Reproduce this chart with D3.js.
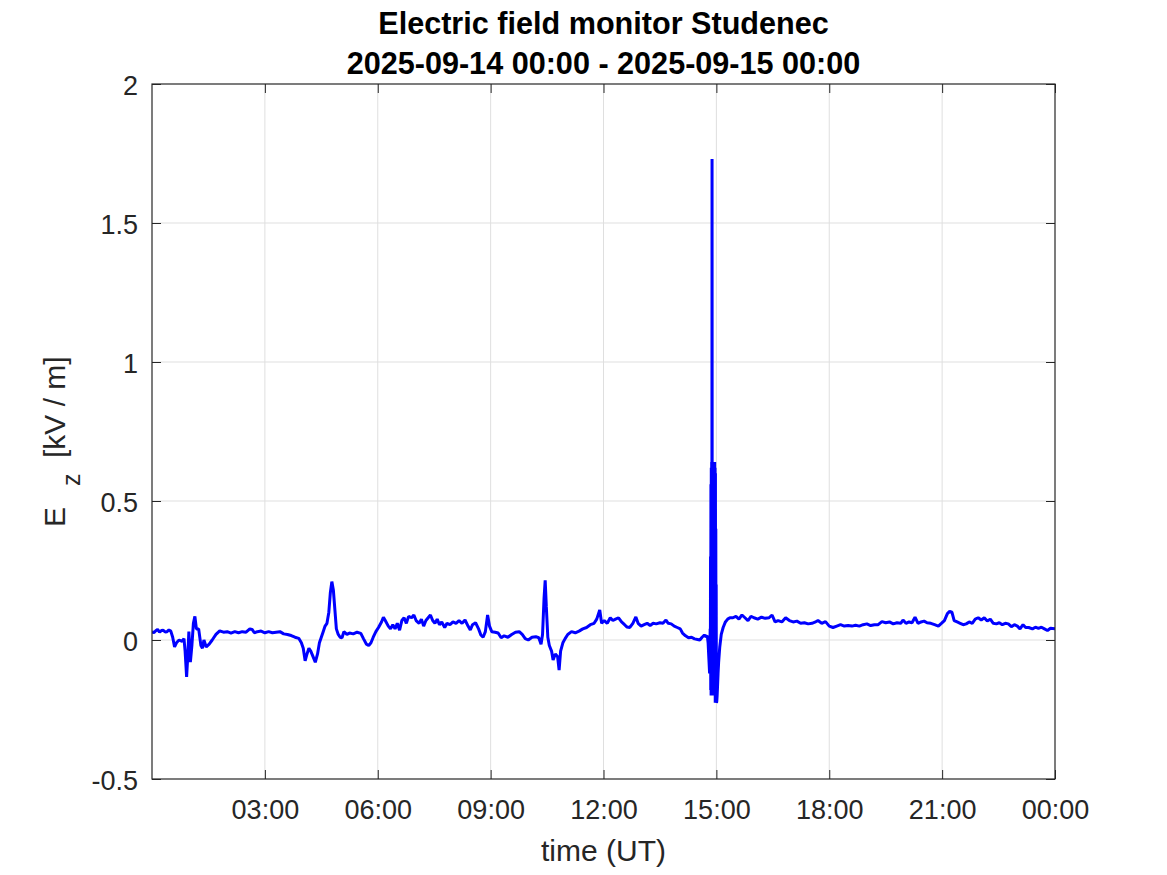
<!DOCTYPE html>
<html>
<head>
<meta charset="utf-8">
<script src="https://cdn.jsdelivr.net/npm/d3@7"></script>
<style>
  html, body { margin: 0; padding: 0; background: #fff; }
  svg { display: block; }
  text { font-family: "Liberation Sans", Arial, Helvetica, sans-serif; }
</style>
</head>
<body>
<svg id="chart" width="1167" height="875"></svg>
<script>
// ---- data ----
const titleLines = ["Electric field monitor Studenec", "2025-09-14 00:00 - 2025-09-15 00:00"];
const xLabel = "time (UT)";
const xTickHours = [3, 6, 9, 12, 15, 18, 21, 24];
const xTickLabels = ["03:00", "06:00", "09:00", "12:00", "15:00", "18:00", "21:00", "00:00"];
const yTicks = [-0.5, 0, 0.5, 1, 1.5, 2];
const yTickLabels = ["-0.5", "0", "0.5", "1", "1.5", "2"];

// time in hours since 2025-09-14 00:00 UT
const hours = [
  0.00,0.05,0.10,0.15,0.20,0.25,0.30,0.35,0.40,0.45,0.50,0.55,0.60,0.65,0.72,0.80,0.85,0.88,0.92,0.95,0.98,1.02,1.06,1.10,1.14,
  1.18,1.24,1.30,1.34,1.38,1.44,1.52,1.60,1.70,1.80,1.90,2.00,2.10,2.20,2.30,2.40,2.50,2.60,2.66,2.72,
  2.80,2.90,3.00,3.10,3.20,3.30,3.40,3.50,3.60,3.70,3.80,3.90,3.97,4.02,4.07,4.12,4.17,4.22,4.28,4.34,
  4.40,4.45,4.50,4.55,4.60,4.65,4.70,4.74,4.78,4.82,4.86,4.90,4.95,5.00,5.05,5.10,5.18,5.25,5.35,5.45,
  5.55,5.62,5.70,5.76,5.82,5.88,5.95,6.02,6.10,6.15,6.20,6.28,6.34,6.40,6.46,6.52,6.58,6.64,6.70,6.76,
  6.82,6.90,6.96,7.02,7.10,7.16,7.22,7.28,7.34,7.40,7.46,7.52,7.58,7.64,7.70,7.78,7.84,7.92,8.00,8.08,
  8.16,8.24,8.32,8.40,8.46,8.52,8.60,8.68,8.74,8.80,8.86,8.92,8.97,9.03,9.12,9.20,9.28,9.36,9.46,9.56,
  9.66,9.76,9.84,9.92,10.00,10.10,10.20,10.28,10.34,10.38,10.42,10.45,10.48,10.52,10.56,10.62,10.66,10.72,10.78,10.82,
  10.86,10.92,10.98,11.05,11.15,11.25,11.35,11.45,11.55,11.65,11.75,11.82,11.90,11.95,12.02,12.10,12.18,12.25,12.32,12.40,
  12.48,12.56,12.62,12.70,12.78,12.86,12.92,13.00,13.08,13.16,13.24,13.32,13.40,13.50,13.58,13.66,13.72,13.80,13.88,13.96,
  14.04,14.10,14.18,14.26,14.34,14.42,14.50,14.56,14.62,14.68,14.72,14.76,14.78,14.80,14.82,14.835,
  14.840,14.845,14.850,14.855,14.860,14.865,14.870,14.875,14.880,14.885,14.890,14.895,14.900,14.905,14.910,14.915,
  14.920,14.925,14.930,14.935,14.940,14.945,14.950,14.955,14.960,14.965,14.970,14.975,14.980,14.985,14.990,14.995,
  15.000,15.010,15.020,15.030,15.045,15.06,15.09,15.13,15.18,15.24,15.30,15.36,
  15.44,15.52,15.60,15.68,15.76,15.84,15.92,16.00,16.10,16.20,16.30,16.40,16.48,16.56,16.64,16.74,16.84,16.94,17.04,17.14,
  17.24,17.34,17.44,17.54,17.62,17.70,17.80,17.90,18.00,18.10,18.20,18.30,18.40,18.50,18.60,18.70,18.80,18.90,19.00,19.10,
  19.20,19.30,19.40,19.50,19.60,19.70,19.80,19.90,19.96,20.04,20.12,20.20,20.28,20.36,20.44,20.52,20.60,20.70,20.80,20.90,
  20.98,21.06,21.14,21.20,21.26,21.32,21.40,21.48,21.56,21.64,21.72,21.80,21.88,21.96,22.04,22.12,22.20,22.28,22.36,22.44,
  22.52,22.60,22.68,22.76,22.84,22.92,23.00,23.07,23.15,23.22,23.30,23.40,23.48,23.56,23.64,23.72,23.80,23.88,24.00
];
// vertical electric field, kV/m
const ez = [
  0.030,0.026,0.033,0.038,0.028,0.034,0.035,0.029,0.030,0.036,0.032,0.010,-0.025,-0.010,0.000,-0.005,0.005,-0.040,-0.133,-0.060,0.030,-0.080,-0.020,0.060,0.085,
  0.040,0.040,-0.020,-0.030,0.000,-0.025,-0.015,0.000,0.020,0.033,0.028,0.030,0.025,0.030,0.026,0.030,0.028,0.040,0.038,0.026,
  0.030,0.032,0.026,0.030,0.026,0.028,0.030,0.022,0.020,0.016,0.010,0.006,-0.010,-0.030,-0.075,-0.050,-0.030,-0.040,-0.060,-0.080,
  -0.050,-0.010,0.010,0.030,0.050,0.060,0.100,0.170,0.210,0.180,0.110,0.040,0.020,0.010,0.008,0.030,0.020,0.025,0.022,0.028,
  0.024,0.005,-0.015,-0.020,-0.010,0.010,0.030,0.045,0.065,0.082,0.070,0.050,0.040,0.055,0.040,0.060,0.035,0.070,0.080,0.060,
  0.085,0.080,0.090,0.070,0.060,0.075,0.050,0.070,0.080,0.090,0.070,0.060,0.075,0.055,0.065,0.045,0.060,0.055,0.065,0.060,
  0.070,0.060,0.072,0.050,0.036,0.055,0.062,0.040,0.018,0.010,0.030,0.090,0.050,0.030,0.028,0.025,0.008,0.015,0.010,0.020,
  0.028,0.030,0.020,0.005,0.000,0.010,0.012,0.008,-0.015,0.020,0.150,0.215,0.120,0.010,-0.020,-0.040,-0.072,-0.050,-0.060,-0.108,
  -0.040,-0.010,0.005,0.020,0.030,0.026,0.032,0.040,0.045,0.055,0.060,0.075,0.108,0.060,0.070,0.060,0.080,0.070,0.075,0.080,
  0.065,0.055,0.047,0.045,0.060,0.083,0.060,0.050,0.055,0.060,0.052,0.060,0.058,0.062,0.060,0.072,0.060,0.058,0.050,0.045,
  0.040,0.025,0.015,0.008,0.010,0.004,0.002,0.000,0.010,0.018,0.012,0.015,-0.010,-0.065,-0.120,0.040,
  -0.120,0.300,-0.180,0.560,-0.200,0.620,-0.190,0.640,-0.200,1.730,-0.150,0.640,-0.200,0.640,-0.180,0.630,
  -0.200,0.640,-0.150,0.640,-0.190,0.640,-0.120,0.640,-0.200,0.620,-0.226,0.600,-0.220,0.400,-0.226,0.200,
  -0.226,-0.222,-0.200,-0.170,-0.120,-0.080,-0.025,0.020,0.045,0.065,0.075,0.080,
  0.080,0.085,0.075,0.090,0.080,0.070,0.085,0.080,0.075,0.082,0.078,0.080,0.090,0.065,0.070,0.065,0.080,0.070,0.065,0.068,
  0.060,0.062,0.058,0.060,0.064,0.070,0.060,0.066,0.050,0.045,0.050,0.055,0.050,0.052,0.050,0.053,0.050,0.055,0.058,0.052,
  0.055,0.055,0.066,0.062,0.065,0.058,0.062,0.060,0.072,0.060,0.065,0.062,0.082,0.060,0.065,0.068,0.062,0.060,0.055,0.050,
  0.060,0.070,0.095,0.103,0.100,0.070,0.065,0.060,0.055,0.058,0.065,0.060,0.075,0.080,0.072,0.080,0.068,0.075,0.060,0.058,
  0.062,0.055,0.060,0.058,0.048,0.055,0.050,0.040,0.055,0.045,0.045,0.040,0.046,0.042,0.046,0.040,0.034,0.042,0.040
];

// ---- layout ----
const svg = d3.select("#chart");
const L = 152, R = 1055, T = 84, B = 779;
const axisColor = "#262626";
const x = d3.scaleLinear().domain([0, 24]).range([L, R]);
const y = d3.scaleLinear().domain([-0.5, 2]).range([B, T]);

// grid
const grid = svg.append("g");
grid.selectAll("line.vx").data(xTickHours.filter(h => h < 24)).enter().append("line")
  .attr("x1", d => x(d)).attr("x2", d => x(d)).attr("y1", T).attr("y2", B)
  .attr("stroke", "#dfdfdf").attr("stroke-width", 1);
grid.selectAll("line.hy").data(yTicks.filter(v => v > -0.5 && v < 2)).enter().append("line")
  .attr("x1", L).attr("x2", R).attr("y1", d => y(d)).attr("y2", d => y(d))
  .attr("stroke", "#dfdfdf").attr("stroke-width", 1);

// data line
svg.append("clipPath").attr("id", "clip").append("rect")
  .attr("x", L).attr("y", T).attr("width", R - L).attr("height", B - T);
const pts = hours.map((h, i) => [h, ez[i]]);
svg.append("path").datum(pts)
  .attr("clip-path", "url(#clip)")
  .attr("fill", "none").attr("stroke", "#0000ff").attr("stroke-width", 3)
  .attr("stroke-linejoin", "bevel")
  .attr("d", d3.line().x(d => x(d[0])).y(d => y(d[1])));

// axes
const tickFont = 27;
const xAxis = d3.axisBottom(x).tickValues(xTickHours).tickSize(-9).tickPadding(21)
  .tickFormat((d, i) => xTickLabels[i]);
const gx = svg.append("g").attr("transform", `translate(0,${B})`).call(xAxis);
const xTop = d3.axisTop(x).tickValues(xTickHours).tickSize(-9).tickFormat("");
const gxt = svg.append("g").attr("transform", `translate(0,${T})`).call(xTop);
const yAxis = d3.axisLeft(y).tickValues(yTicks).tickSize(-9).tickPadding(14)
  .tickFormat((d, i) => yTickLabels[i]);
const gy = svg.append("g").attr("transform", `translate(${L},0)`).call(yAxis);
const yRight = d3.axisRight(y).tickValues(yTicks).tickSize(-9).tickFormat("");
const gyr = svg.append("g").attr("transform", `translate(${R},0)`).call(yRight);

[gx, gxt, gy, gyr].forEach(g => {
  g.select(".domain").remove();
  g.selectAll(".tick line").attr("stroke", axisColor).attr("stroke-width", 1);
  g.selectAll(".tick text").attr("fill", axisColor)
    .style("font-size", tickFont + "px");
});
gy.selectAll(".tick text").attr("dy", "0.38em");

svg.append("rect").attr("x", L).attr("y", T).attr("width", R - L).attr("height", B - T)
  .attr("fill", "none").attr("stroke", axisColor).attr("stroke-width", 1.2);

// labels
svg.append("text").attr("x", (L + R) / 2).attr("y", 861).attr("text-anchor", "middle")
  .attr("fill", axisColor).style("font-size", "30px").text(xLabel);

svg.append("text").attr("transform", "translate(65,527) rotate(-90)")
  .attr("fill", axisColor).style("font-size", "30px").text("E");
svg.append("text").attr("transform", "translate(80,486) rotate(-90)")
  .attr("fill", axisColor).style("font-size", "25px").text("z");
svg.append("text").attr("transform", "translate(65,458) rotate(-90)")
  .attr("fill", axisColor).style("font-size", "30px").text("[kV / m]");

// title
svg.append("text").attr("x", (L + R) / 2).attr("y", 34).attr("text-anchor", "middle")
  .attr("fill", "#000").style("font-size", "30.6px").style("font-weight", "bold").text(titleLines[0]);
svg.append("text").attr("x", (L + R) / 2).attr("y", 74).attr("text-anchor", "middle")
  .attr("fill", "#000").style("font-size", "30.6px").style("font-weight", "bold").text(titleLines[1]);
</script>
</body>
</html>
